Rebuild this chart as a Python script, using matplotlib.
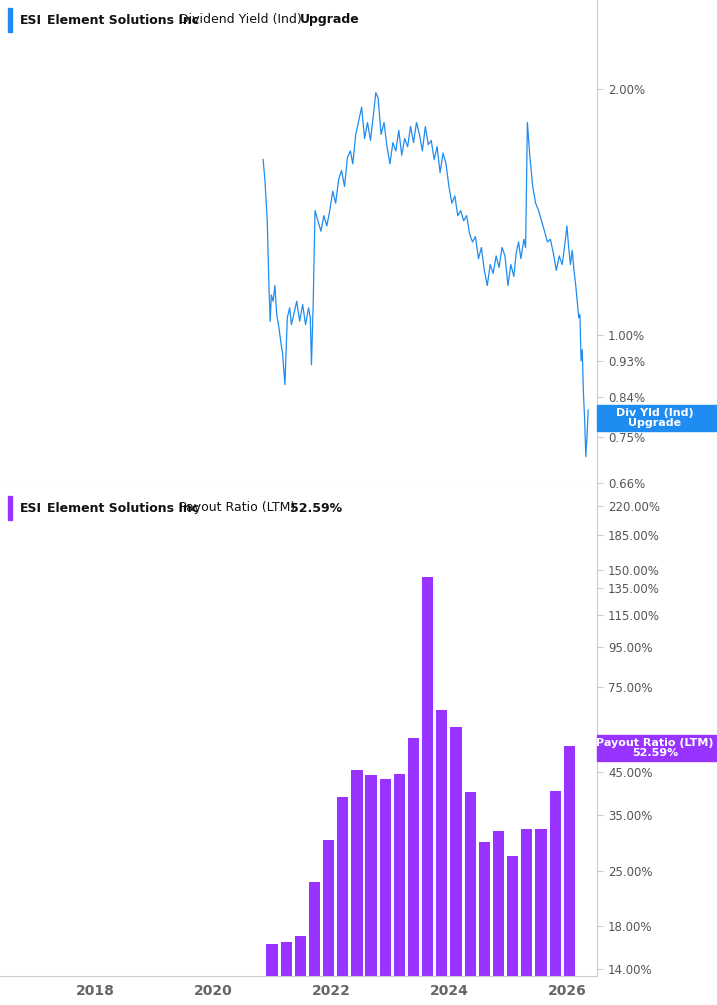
import matplotlib.pyplot as plt
import matplotlib.ticker as mt
from matplotlib.patches import Rectangle

# Dividend yield (%) trace: (year, value) readings
yield_points = [
 (2020.85,1.64),(2020.88,1.55),(2020.92,1.38),(2020.95,1.14),(2020.97,1.04),(2020.99,1.12),(2021.02,1.10),(2021.05,1.15),
 (2021.08,1.06),(2021.12,1.02),(2021.15,0.98),(2021.18,0.95),(2021.22,0.87),(2021.26,1.05),(2021.30,1.08),(2021.33,1.03),
 (2021.37,1.06),(2021.42,1.10),(2021.47,1.04),(2021.52,1.09),(2021.57,1.03),(2021.62,1.08),(2021.65,1.05),(2021.67,0.92),
 (2021.70,1.10),(2021.73,1.42),(2021.78,1.38),(2021.83,1.34),(2021.88,1.40),(2021.93,1.36),(2021.98,1.42),(2022.03,1.50),
 (2022.08,1.45),(2022.13,1.55),(2022.18,1.59),(2022.23,1.52),(2022.28,1.65),(2022.33,1.68),(2022.37,1.62),(2022.42,1.76),
 (2022.47,1.83),(2022.52,1.90),(2022.57,1.74),(2022.62,1.82),(2022.67,1.73),(2022.72,1.86),(2022.76,1.98),(2022.80,1.95),
 (2022.85,1.76),(2022.90,1.82),(2022.95,1.70),(2023.00,1.62),(2023.05,1.72),(2023.10,1.68),(2023.15,1.78),(2023.20,1.66),
 (2023.25,1.74),(2023.30,1.70),(2023.35,1.80),(2023.40,1.72),(2023.45,1.82),(2023.50,1.76),(2023.55,1.68),(2023.60,1.80),
 (2023.65,1.71),(2023.70,1.73),(2023.75,1.64),(2023.80,1.70),(2023.85,1.58),(2023.90,1.67),(2023.95,1.62),(2024.00,1.52),
 (2024.05,1.45),(2024.10,1.48),(2024.15,1.40),(2024.20,1.42),(2024.25,1.38),(2024.30,1.40),(2024.35,1.33),(2024.40,1.30),
 (2024.45,1.32),(2024.50,1.24),(2024.55,1.28),(2024.60,1.20),(2024.65,1.15),(2024.70,1.22),(2024.75,1.19),(2024.80,1.25),
 (2024.85,1.21),(2024.90,1.28),(2024.95,1.25),(2025.00,1.15),(2025.05,1.22),(2025.10,1.18),(2025.14,1.26),(2025.18,1.30),
 (2025.22,1.24),(2025.27,1.31),(2025.30,1.28),(2025.33,1.82),(2025.37,1.66),(2025.42,1.52),(2025.47,1.45),(2025.52,1.42),
 (2025.57,1.38),(2025.62,1.34),(2025.67,1.30),(2025.72,1.31),(2025.77,1.26),(2025.82,1.20),(2025.87,1.25),(2025.92,1.22),
 (2025.97,1.30),(2026.00,1.36),(2026.03,1.28),(2026.06,1.22),(2026.09,1.27),(2026.12,1.20),(2026.15,1.15),(2026.18,1.09),
 (2026.20,1.05),(2026.22,1.06),(2026.24,0.93),(2026.26,0.96),(2026.28,0.85),(2026.30,0.79),(2026.32,0.71),(2026.34,0.75),
 (2026.36,0.81)]
yield_dates = [p[0] for p in yield_points]
yield_vals = [p[1] for p in yield_points]

payout_dates = [2021.0+0.24*i for i in range(22)]
payout_vals = [16.2,16.4,17.0,23.5,30.1,38.9,45.7,44.3,43.3,44.5,55.3,144,65.2,59.0,40.0,29.8,31.8,27.3,32.2,32.2,40.4,52.59]

yield_ticks = [2.00,1.00,0.93,0.84,0.75,0.66]
payout_ticks = [220,185,150,135,115,95,75,45,35,25,18,14]
year_ticks = [2018,2020,2022,2024,2026]

W,H = 717,1005
fig = plt.figure(figsize=(W/100,H/100),dpi=100)
blue='#1E8CF0'; purple='#9933FF'; grey='#555555'
ax1 = fig.add_axes([0,1-487/H,597/W,487/H])
ax2 = fig.add_axes([0,1-976/H,597/W,489/H],sharex=ax1)
ax1.plot(yield_dates,yield_vals,color=blue,lw=0.9)
ax1.set_yscale('log'); ax1.set_ylim(0.652,2.57)
ax2.bar(payout_dates,payout_vals,width=0.19,color=purple,bottom=0.01)
ax2.set_yscale('log'); ax2.set_ylim(13.4,246)
ax1.set_xlim(2016.39,2026.51)
for ax,ticks in ((ax1,yield_ticks),(ax2,payout_ticks)):
    ax.yaxis.tick_right()
    ax.yaxis.set_major_locator(mt.FixedLocator(ticks))
    ax.yaxis.set_minor_locator(mt.NullLocator())
    ax.set_yticklabels([f'{t:.2f}%' for t in ticks])
    ax.tick_params(axis='y',length=4,color='#cccccc',labelsize=8.5,labelcolor=grey,pad=4)
    for s in ('left','top'): ax.spines[s].set_visible(False)
    ax.spines['right'].set_color('#cccccc'); ax.spines['bottom'].set_color('#cccccc')
ax1.tick_params(axis='x',bottom=False,labelbottom=False)
ax2.set_xticks(year_ticks)
ax2.tick_params(axis='x',length=0,labelsize=10,labelcolor='#666666',pad=6)
for l in ax2.get_xticklabels(): l.set_fontweight('bold')

def legend(y,color,parts,x1):
    fig.patches.append(Rectangle((8/W,1-(y+12)/H),4/W,24/H,transform=fig.transFigure,color=color))
    fig.patches.append(Rectangle((8/W,1-(y+12)/H),x1/W,24/H,transform=fig.transFigure,fc='white',ec='#dddddd',lw=0.8,zorder=-1))
    for x,t,b in parts:
        fig.text(x/W,1-y/H,t,fontsize=9,fontweight='bold' if b else 'normal',va='center',color='#111111')
legend(20,blue,[(20,'ESI',1),(47,'Element Solutions Inc',1),(179,'Dividend Yield (Ind)',0),(300,'Upgrade',1)],348)
legend(508,purple,[(20,'ESI',1),(47,'Element Solutions Inc',1),(179,'Payout Ratio (LTM)',0),(290,'52.59%',1)],330)

def tag(yc,color,txt):
    fig.patches.append(Rectangle((597/W,1-(yc+13)/H),120/W,26/H,transform=fig.transFigure,color=color))
    fig.text(655/W,1-yc/H,txt,fontsize=8,fontweight='bold',color='white',ha='center',va='center',linespacing=1.0)
tag(418,blue,'Div Yld (Ind)\nUpgrade')
tag(748,purple,'Payout Ratio (LTM)\n52.59%')
fig.savefig('out.png',dpi=100)
